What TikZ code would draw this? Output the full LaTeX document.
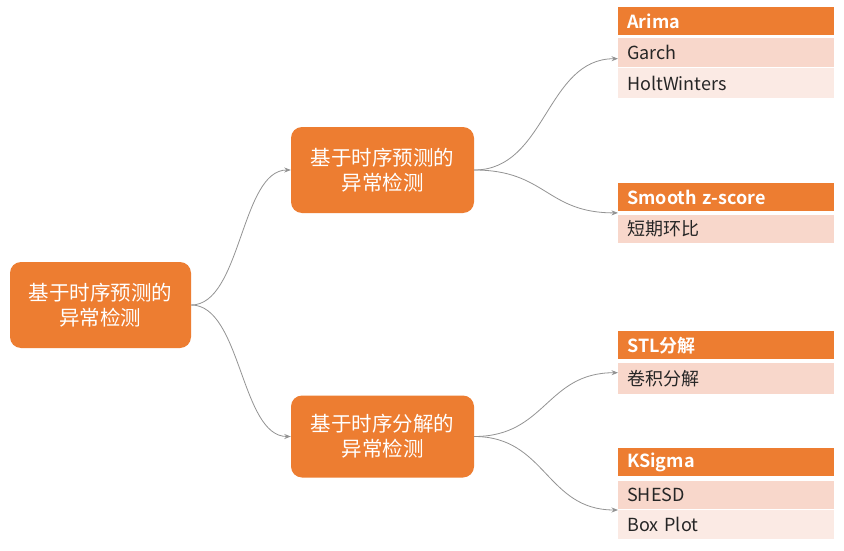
\documentclass[tikz,border=0pt]{standalone}
\usepackage{fontspec}
\setmainfont{Noto Sans CJK SC}[BoldFont={Noto Sans CJK SC Bold}]
\usetikzlibrary{arrows.meta}
\definecolor{org}{HTML}{ED7D31}
\definecolor{rowA}{HTML}{F8D7CB}
\definecolor{rowB}{HTML}{FBEAE4}
\definecolor{lnk}{HTML}{939393}
\tikzset{
  topic/.style={fill=org, rounded corners=11pt, text=white, font=\fontsize{20.5}{25}\selectfont,
    align=center, minimum width=183pt, inner sep=0pt},
  rowbase/.style={anchor=north west, minimum width=215pt, text width=198pt, inner xsep=9pt,
    inner ysep=0pt, align=left, font=\fontsize{18}{20}\selectfont},
  head/.style={rowbase, fill=org, text=white, font=\fontsize{18}{20}\selectfont\bfseries},
  rowa/.style={rowbase, fill=rowA, text=black!85},
  rowb/.style={rowbase, fill=rowB, text=black!85},
  link/.style={draw=lnk, line width=0.8pt, -{Stealth[length=6.5pt,width=5pt]}}
}
\begin{document}
\begin{tikzpicture}[x=1pt,y=-1pt]
\useasboundingbox[fill=white] (0,0) rectangle (844,551);
% topics
\node[topic, minimum width=181pt, minimum height=86pt] (root) at (100.5,305) {基于时序预测的\\异常检测};
\node[topic, minimum height=86pt] (m1) at (382.5,170) {基于时序预测的\\异常检测};
\node[topic, minimum height=82pt] (m2) at (382.5,436.5) {基于时序分解的\\异常检测};
% group 1
\node[head, minimum height=28pt] (arima) at (618,7) {Arima};
\node[rowa, minimum height=29pt] (garch) at (618,38) {Garch};
\node[rowb, minimum height=30pt] (holt) at (618,68) {HoltWinters};
% group 2
\node[head, minimum height=28pt] (smooth) at (618,183) {Smooth z-score};
\node[rowa, minimum height=28pt] (dq) at (618,215) {短期环比};
% group 3
\node[head, minimum height=28pt] (stl) at (618,331) {STL分解};
\node[rowa, minimum height=31pt] (jj) at (618,363) {卷积分解};
% group 4
\node[head, minimum height=28pt] (ks) at (618,448) {KSigma};
\node[rowa, minimum height=28pt] (shesd) at (618,481) {SHESD};
\node[rowb, minimum height=29pt] (box) at (618,510) {Box Plot};
% connectors
\coordinate (t1) at ([yshift=-6pt]garch.west);
\coordinate (t2) at ([yshift=-1.5pt]smooth.south west);
\coordinate (t3) at ([yshift=6pt]jj.west);
\coordinate (t4) at (box.north west);
\draw[link] (root.east) .. controls +(50,0) and +(-50,0) .. (m1.west);
\draw[link] (root.east) .. controls +(50,0) and +(-50,0) .. (m2.west);
\draw[link] (m1.east) .. controls +(72,0) and +(-72,0) .. (t1);
\draw[link] (m1.east) .. controls +(72,0) and +(-72,0) .. (t2);
\draw[link] (m2.east) .. controls +(72,0) and +(-72,0) .. (t3);
\draw[link] (m2.east) .. controls +(72,0) and +(-72,0) .. (t4);
\end{tikzpicture}
\end{document}
